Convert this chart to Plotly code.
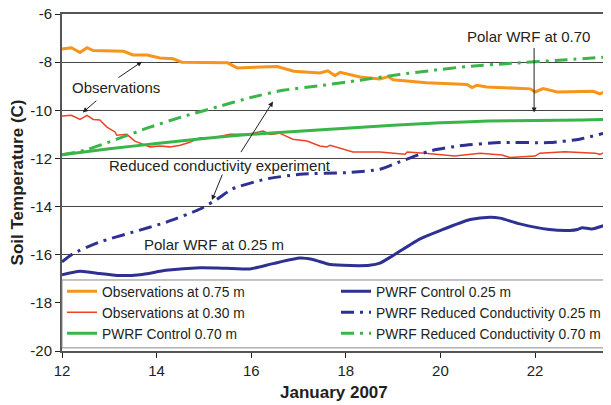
import plotly.graph_objects as go

# ---- data ----
obs075_x = [12.0,12.2,12.38,12.53,12.66,13.0,13.3,13.5,13.8,14.07,14.35,14.53,15.0,15.5,15.7,16.1,16.55,16.9,17.2,17.45,17.62,17.77,17.88,18.3,18.72,18.9,19.0,19.7,20.2,20.56,20.67,20.77,20.98,21.5,21.9,22.0,22.17,22.47,22.9,23.23,23.37,23.5]
obs075_y = [-7.45,-7.4,-7.6,-7.4,-7.52,-7.53,-7.55,-7.7,-7.7,-7.83,-7.86,-8.0,-8.02,-8.03,-8.24,-8.2,-8.18,-8.38,-8.42,-8.45,-8.36,-8.56,-8.42,-8.62,-8.7,-8.6,-8.73,-8.86,-8.9,-8.93,-9.06,-8.96,-9.03,-9.08,-9.11,-9.24,-9.1,-9.24,-9.22,-9.21,-9.32,-9.21]

obs030_x = [12.0,12.2,12.38,12.53,12.66,12.8,12.95,13.12,13.16,13.37,13.54,13.8,13.86,14.07,14.28,14.5,14.7,14.92,15.2,15.55,15.97,16.25,16.4,16.6,16.88,17.18,17.45,17.6,17.67,18.15,18.72,19.25,19.3,19.67,20.3,20.84,21.3,21.47,22.0,22.1,22.63,23.27,23.37,23.5]
obs030_y = [-10.24,-10.21,-10.38,-10.21,-10.38,-10.4,-10.7,-10.9,-11.04,-11.0,-11.28,-11.48,-11.52,-11.48,-11.52,-11.45,-11.33,-11.14,-11.14,-11.0,-10.98,-10.86,-11.0,-10.95,-11.2,-11.28,-11.48,-11.52,-11.45,-11.73,-11.73,-11.83,-11.73,-11.78,-11.9,-11.78,-11.86,-11.96,-11.9,-11.78,-11.72,-11.78,-11.83,-11.72]

ctl070_x = [12,13,14,15,16,17,18,19,20,21,22,23,23.5]
ctl070_y = [-11.85,-11.6,-11.38,-11.17,-11.0,-10.87,-10.75,-10.62,-10.52,-10.45,-10.42,-10.4,-10.38]

red070_x = [12,12.5,13.16,13.86,14.56,15.28,15.97,16.67,17.45,18.3,19.1,19.8,20.56,21.5,22.67,23.5]
red070_y = [-11.85,-11.65,-11.2,-10.7,-10.26,-9.86,-9.48,-9.17,-8.98,-8.75,-8.52,-8.35,-8.18,-8.05,-7.9,-7.79]

ctl025_x = [12.0,12.38,12.8,13.16,13.65,14.2,14.92,15.28,15.97,16.46,17.03,17.3,17.67,18.1,18.5,18.72,19.0,19.57,19.99,20.63,21.05,21.26,21.68,22.3,22.73,22.9,23.0,23.2,23.5]
ctl025_y = [-16.83,-16.69,-16.78,-16.86,-16.83,-16.65,-16.54,-16.55,-16.59,-16.37,-16.14,-16.2,-16.41,-16.45,-16.44,-16.35,-16.03,-15.34,-15.0,-14.54,-14.44,-14.48,-14.72,-14.95,-14.99,-14.95,-14.88,-14.93,-14.76]

red025_x = [12.0,12.23,12.8,13.5,14.2,14.92,15.28,15.6,16.3,17.03,18.1,18.72,19.1,19.78,20.4,21.26,22.3,22.94,23.5]
red025_y = [-16.3,-15.96,-15.47,-15.06,-14.65,-14.1,-13.69,-13.27,-12.86,-12.66,-12.58,-12.45,-12.17,-11.69,-11.48,-11.34,-11.34,-11.2,-10.93]

x_ticks = [12, 14, 16, 18, 20, 22]
y_ticks = [-20, -18, -16, -14, -12, -10, -8, -6]

ORANGE = "#F7941D"
RED = "#EF4123"
GREEN = "#39B54A"
BLUE = "#2E3192"
DASH = "13px,6px,3px,6px"
FONT = "Liberation Sans, Arial, sans-serif"
TXT = "#231F20"

fig = go.Figure()
# row-major order for a 2-column legend
fig.add_trace(go.Scatter(x=obs075_x, y=obs075_y, mode="lines", name="Observations at 0.75 m",
                         line=dict(color=ORANGE, width=3)))
fig.add_trace(go.Scatter(x=ctl025_x, y=ctl025_y, mode="lines", name="PWRF Control 0.25 m",
                         line=dict(color=BLUE, width=3, shape="spline", smoothing=0.6)))
fig.add_trace(go.Scatter(x=obs030_x, y=obs030_y, mode="lines", name="Observations at 0.30 m",
                         line=dict(color=RED, width=1.5)))
fig.add_trace(go.Scatter(x=red025_x, y=red025_y, mode="lines", name="PWRF Reduced Conductivity 0.25 m",
                         line=dict(color=BLUE, width=3, dash=DASH, shape="spline", smoothing=0.6)))
fig.add_trace(go.Scatter(x=ctl070_x, y=ctl070_y, mode="lines", name="PWRF Control 0.70 m",
                         line=dict(color=GREEN, width=3, shape="spline", smoothing=0.6)))
fig.add_trace(go.Scatter(x=red070_x, y=red070_y, mode="lines", name="PWRF Reduced Conductivity 0.70 m",
                         line=dict(color=GREEN, width=3, dash=DASH, shape="spline", smoothing=0.6)))

# legend background box
fig.add_shape(type="rect", xref="paper", yref="y", x0=0, x1=1, y0=-19.87, y1=-17.05,
              fillcolor="white", line=dict(color="#888888", width=1), layer="above")

ann_font = dict(family=FONT, size=15, color=TXT)
arrow = dict(showarrow=True, arrowhead=2, arrowsize=1, arrowwidth=1, arrowcolor=TXT)
anns = [
    dict(x=13.14, y=-9.06, text="Observations", showarrow=False, font=ann_font),
    dict(x=13.69, y=-7.98, ax=-25, ay=17, text="", **arrow),
    dict(x=12.44, y=-10.09, ax=15, ay=-13, text="", **arrow),
    dict(x=15.34, y=-12.28, text="Reduced conductivity experiment", showarrow=False, font=ann_font),
    dict(x=16.46, y=-9.64, ax=-33, ay=52, text="", **arrow),
    dict(x=15.17, y=-13.73, ax=11, ay=-27, text="", **arrow),
    dict(x=21.87, y=-6.95, text="Polar WRF at 0.70", showarrow=False, font=ann_font),
    dict(x=21.98, y=-10.09, ax=0, ay=-66, text="", **arrow),
    dict(x=15.21, y=-15.59, text="Polar WRF at 0.25 m", showarrow=False, font=ann_font),
]
for a in anns:
    a.setdefault("xref", "x")
    a.setdefault("yref", "y")
    fig.add_annotation(**a)

# axis titles
title_font = dict(family=FONT, size=17, color=TXT)
fig.add_annotation(xref="paper", yref="paper", x=0.5, y=-0.122, text="<b>January 2007</b>",
                   showarrow=False, font=title_font, yanchor="middle")
fig.add_annotation(xref="paper", yref="paper", x=-0.081, y=0.5, text="<b>Soil Temperature (C)</b>",
                   showarrow=False, font=title_font, textangle=-90, xanchor="center")

# page body has an 8px margin; size/margins compensate so the plot lands where the reference has it
fig.update_layout(
    width=603, height=397,
    margin=dict(l=54, r=5, t=6, b=54),
    paper_bgcolor="white", plot_bgcolor="white",
    font=dict(family=FONT, size=15, color=TXT),
    showlegend=True,
    legend=dict(orientation="h", x=0, xanchor="left", y=0.223, yanchor="top",
                entrywidthmode="pixels", entrywidth=229,
                bgcolor="rgba(0,0,0,0)", borderwidth=0,
                font=dict(family=FONT, size=13.8, color=TXT),
                tracegroupgap=0),
    xaxis=dict(range=[12, 23.5], tickvals=x_ticks, ticktext=[str(v) for v in x_ticks],
               showgrid=False, zeroline=False, automargin=False, ticklabeloverflow="allow",
               showline=True, linecolor="#555555", linewidth=2, mirror=True,
               ticks="outside", ticklen=5, tickcolor=TXT, tickwidth=1,
               tickfont=dict(size=15)),
    yaxis=dict(range=[-20, -6], tickvals=y_ticks, ticktext=[str(v) for v in y_ticks],
               showgrid=True, gridcolor="#444444", gridwidth=1, zeroline=False, automargin=False,
               ticklabeloverflow="allow",
               showline=True, linecolor="#555555", linewidth=2, mirror=True,
               ticks="outside", ticklen=5, tickcolor=TXT, tickwidth=1,
               tickfont=dict(size=15)),
)

fig.write_html("out.html")
